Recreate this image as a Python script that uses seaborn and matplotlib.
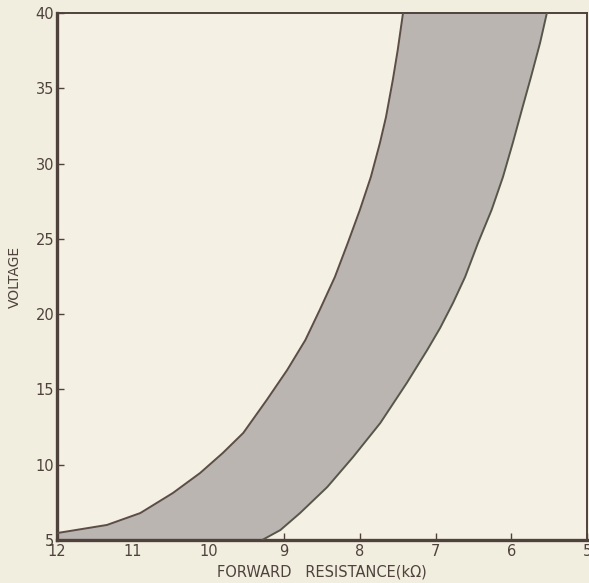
import matplotlib
matplotlib.use("Agg")
import matplotlib.pyplot as plt
import seaborn as sns
import pandas as pd

# Data
resistance_left = [12.0, 11.34, 10.90, 10.47, 10.11, 9.81, 9.54, 9.23, 8.96, 8.72,
                   8.53, 8.33, 8.16, 8.00, 7.855, 7.735, 7.655, 7.565, 7.50, 7.43]
voltage_left = [5.46, 6.00, 6.79, 8.12, 9.45, 10.78, 12.11, 14.30, 16.29, 18.28,
                20.28, 22.47, 24.72, 26.92, 29.11, 31.37, 33.09, 35.55, 37.54, 40.0]
resistance_right = [9.29, 9.05, 8.79, 8.43, 8.09, 7.73, 7.38, 7.11, 6.94, 6.77,
                    6.61, 6.44, 6.26, 6.11, 5.98, 5.85, 5.74, 5.62, 5.53]
voltage_right = [5.0, 5.66, 6.79, 8.52, 10.51, 12.77, 15.43, 17.62, 19.08, 20.74,
                 22.47, 24.72, 26.92, 29.11, 31.37, 33.76, 35.75, 38.01, 40.0]
x_ticks = [12, 11, 10, 9, 8, 7, 6, 5]
y_ticks = [5, 10, 15, 20, 25, 30, 35, 40]
x_label = "FORWARD   RESISTANCE(kΩ)"
y_label = "VOLTAGE"

XLIM = (12, 5)
YLIM = (5, 40)

sns.set_theme(style="ticks")
plt.rcParams['font.family'] = ['DejaVu Sans']

bg = "#f2eedf"
ink = "#4f423d"
band = "#bab5b1"

fig = plt.figure(figsize=(5.89, 5.83), dpi=100, facecolor=bg)
ax = fig.add_axes([57 / 589, 43 / 583, 530 / 589, 527 / 583])
ax.set_facecolor("#f4f0e3")

# shaded band between the two curves (closed along the bottom axis)
poly_x = list(resistance_left) + list(resistance_right[::-1]) + [XLIM[0]]
poly_y = list(voltage_left) + list(voltage_right[::-1]) + [YLIM[0]]
ax.fill(poly_x, poly_y, color=band, linewidth=0, zorder=1)

df_left = pd.DataFrame({"r": resistance_left, "v": voltage_left})
df_right = pd.DataFrame({"r": resistance_right, "v": voltage_right})
sns.lineplot(data=df_left, x="r", y="v", sort=False, estimator=None,
             color="#5c4d47", linewidth=1.4, ax=ax, zorder=3)
sns.lineplot(data=df_right, x="r", y="v", sort=False, estimator=None,
             color="#56574a", linewidth=1.4, ax=ax, zorder=3)

ax.set_xlim(*XLIM)
ax.set_ylim(*YLIM)
ax.set_xticks(x_ticks)
ax.set_yticks(y_ticks)
ax.set_xticklabels([str(t) for t in x_ticks])
ax.set_yticklabels([str(t) for t in y_ticks])

for side in ["left", "bottom"]:
    ax.spines[side].set_linewidth(2.4)
    ax.spines[side].set_color(ink)
for side in ["top", "right"]:
    ax.spines[side].set_visible(True)
    ax.spines[side].set_linewidth(1.4)
    ax.spines[side].set_color(ink)

ax.tick_params(axis="both", direction="in", length=5, width=1.0, color=ink,
               labelcolor=ink, labelsize=10.5, pad=3)
ax.tick_params(axis="y", pad=2)

ax.set_xlabel(x_label, fontsize=10.5, color=ink, labelpad=4)
ax.set_ylabel(y_label, fontsize=10, color=ink, labelpad=10)

fig.savefig("out.png", dpi=100, facecolor=bg)
